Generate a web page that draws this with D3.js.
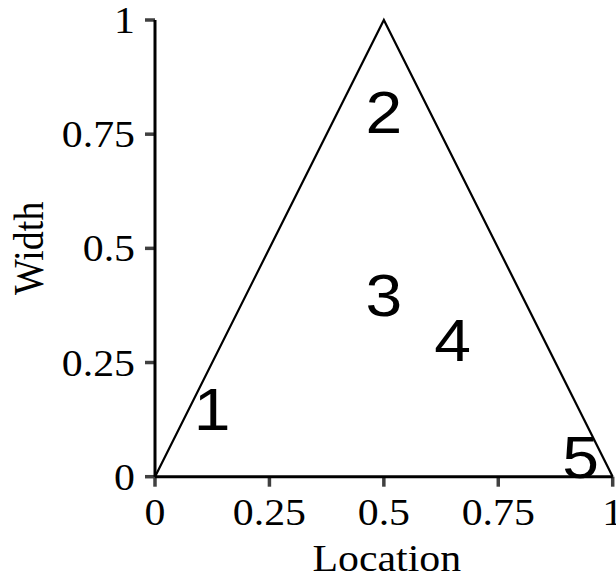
<!DOCTYPE html>
<html>
<head>
<meta charset="utf-8">
<script src="https://cdn.jsdelivr.net/npm/d3@7"></script>
<style>
  body { margin: 0; background: #fff; }
</style>
</head>
<body>
<script>
  // triangle outline (location, width)
  var vertexX = [0, 0.5, 1],
      vertexY = [0, 1, 0];

  // region labels
  var regionNames = ["1", "2", "3", "4", "5"],
      regionX = [0.125, 0.5, 0.5, 0.65, 0.93],
      regionY = [0.15, 0.8, 0.4, 0.3, 0.045];

  var tickValues = [0, 0.25, 0.5, 0.75, 1],
      tickLabels = ["0", "0.25", "0.5", "0.75", "1"];

  // dimensions
  var width = 616, height = 580;
  var margin = {top: 20, right: 3.3, bottom: 103.3, left: 155};
  var stretch = 1.1; // text in the original is a bit wide

  var svg = d3.select("body").append("svg")
      .attr("width", width)
      .attr("height", height);

  var x = d3.scaleLinear().domain([0, 1]).range([margin.left, width - margin.right]);
  var y = d3.scaleLinear().domain([0, 1]).range([height - margin.bottom, margin.top]);

  // ticks (grey, drawn under axis lines)
  svg.append("g").selectAll("line.xt")
      .data(tickValues)
      .enter().append("line")
      .attr("x1", function(d) { return x(d); })
      .attr("x2", function(d) { return x(d); })
      .attr("y1", y(0))
      .attr("y2", y(0) + 10)
      .attr("stroke", "#404040")
      .attr("stroke-width", 3.5);

  svg.append("g").selectAll("line.yt")
      .data(tickValues)
      .enter().append("line")
      .attr("x1", x(0) - 10)
      .attr("x2", x(0))
      .attr("y1", function(d) { return y(d); })
      .attr("y2", function(d) { return y(d); })
      .attr("stroke", "#404040")
      .attr("stroke-width", 3.5);

  // axis lines
  svg.append("line")
      .attr("x1", x(0)).attr("x2", x(1))
      .attr("y1", y(0)).attr("y2", y(0))
      .attr("stroke", "#000").attr("stroke-width", 3);
  svg.append("line")
      .attr("x1", x(0)).attr("x2", x(0))
      .attr("y1", y(0)).attr("y2", y(1))
      .attr("stroke", "#000").attr("stroke-width", 3);

  // tick labels
  svg.append("g").selectAll("text")
      .data(tickValues)
      .enter().append("text")
      .attr("font-family", "Liberation Serif, Times New Roman, serif")
      .attr("font-size", "38px")
      .attr("text-anchor", "middle")
      .attr("transform", function(d) {
        return "translate(" + x(d) + "," + (y(0) + 48) + ") scale(" + stretch + ",1)";
      })
      .text(function(d, i) { return tickLabels[i]; });

  svg.append("g").selectAll("text")
      .data(tickValues)
      .enter().append("text")
      .attr("font-family", "Liberation Serif, Times New Roman, serif")
      .attr("font-size", "38px")
      .attr("text-anchor", "end")
      .attr("transform", function(d) {
        return "translate(" + (x(0) - 20) + "," + (y(d) + 13) + ") scale(" + stretch + ",1)";
      })
      .text(function(d, i) { return tickLabels[i]; });

  // axis titles
  svg.append("text")
      .attr("font-family", "Liberation Serif, Times New Roman, serif")
      .attr("font-size", "38px")
      .attr("text-anchor", "middle")
      .attr("transform", "translate(" + ((x(0) + x(1)) / 2 + 3) + "," + 571 + ") scale(" + stretch + ",1)")
      .text("Location");

  svg.append("text")
      .attr("font-family", "Liberation Serif, Times New Roman, serif")
      .attr("font-size", "38px")
      .attr("text-anchor", "middle")
      .attr("transform", "translate(" + 43 + "," + ((y(0) + y(1)) / 2) + ") rotate(-90) scale(1," + stretch + ")")
      .text("Width");

  // triangle
  var line = d3.line()
      .x(function(d, i) { return x(vertexX[i]); })
      .y(function(d, i) { return y(vertexY[i]); });

  svg.append("path")
      .attr("d", line(vertexX))
      .attr("fill", "none")
      .attr("stroke", "#000")
      .attr("stroke-width", 2.2)
      .attr("stroke-linejoin", "miter");

  // region numbers
  svg.append("g").selectAll("text")
      .data(regionNames)
      .enter().append("text")
      .attr("font-family", "Liberation Sans, Arial, sans-serif")
      .attr("font-size", "60px")
      .attr("text-anchor", "middle")
      .attr("transform", function(d, i) {
        return "translate(" + x(regionX[i]) + "," + (y(regionY[i]) + 21.5) + ") scale(" + stretch + ",1)";
      })
      .text(function(d) { return d; });
</script>
</body>
</html>
